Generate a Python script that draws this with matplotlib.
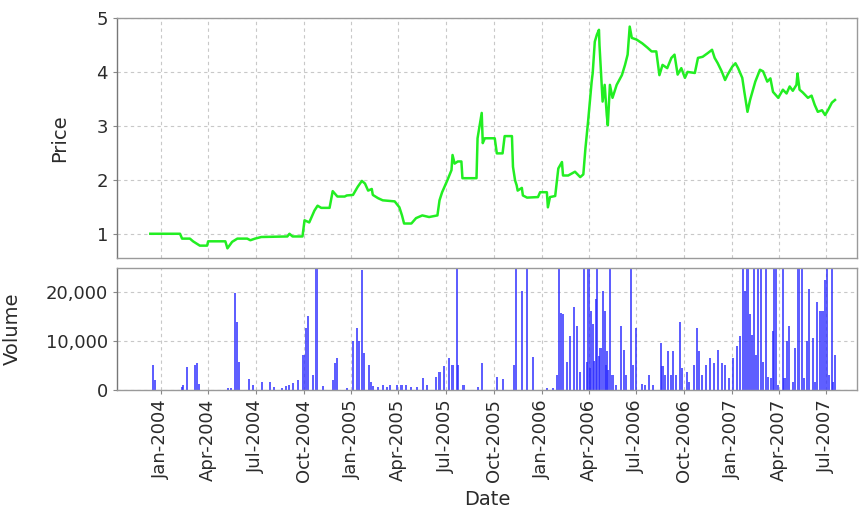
import pandas as pd
import matplotlib
matplotlib.use("Agg")
import matplotlib.pyplot as plt
import matplotlib.dates as mdates
from matplotlib.ticker import FuncFormatter

# === PRICE ===
price_dates = [
    "2003-12-12", "2004-02-07", "2004-02-11", "2004-02-26", "2004-03-03", "2004-03-16",
    "2004-03-30", "2004-04-01", "2004-05-04", "2004-05-08", "2004-05-17", "2004-05-27",
    "2004-06-15", "2004-06-21", "2004-06-30", "2004-07-12", "2004-08-31", "2004-09-04",
    "2004-09-10", "2004-09-29", "2004-10-03", "2004-10-12", "2004-10-22", "2004-10-28",
    "2004-11-04", "2004-11-20", "2004-11-26", "2004-12-05", "2004-12-19", "2004-12-23",
    "2005-01-04", "2005-01-13", "2005-01-21", "2005-01-27", "2005-02-02", "2005-02-09",
    "2005-02-11", "2005-02-21", "2005-03-02", "2005-03-25", "2005-04-03", "2005-04-08",
    "2005-04-12", "2005-04-26", "2005-05-05", "2005-05-17", "2005-05-30", "2005-06-15",
    "2005-06-19", "2005-06-24", "2005-07-04", "2005-07-12", "2005-07-14", "2005-07-18",
    "2005-07-24", "2005-07-31", "2005-08-02", "2005-08-29", "2005-08-31", "2005-09-08",
    "2005-09-10", "2005-09-14", "2005-10-03", "2005-10-07", "2005-10-18", "2005-10-22",
    "2005-11-05", "2005-11-07", "2005-11-11", "2005-11-14", "2005-11-16", "2005-11-24",
    "2005-11-26", "2005-12-04", "2005-12-25", "2005-12-29", "2006-01-11", "2006-01-13",
    "2006-01-17", "2006-01-27", "2006-02-02", "2006-02-09", "2006-02-11", "2006-02-21",
    "2006-03-06", "2006-03-16", "2006-03-22", "2006-03-26", "2006-03-31", "2006-04-07",
    "2006-04-09", "2006-04-13", "2006-04-17", "2006-04-21", "2006-04-22", "2006-04-26",
    "2006-04-28", "2006-05-02", "2006-05-06", "2006-05-08", "2006-05-12", "2006-05-17",
    "2006-05-25", "2006-06-04", "2006-06-10", "2006-06-15", "2006-06-19", "2006-06-23",
    "2006-07-02", "2006-07-13", "2006-07-23", "2006-07-31", "2006-08-09", "2006-08-15",
    "2006-08-21", "2006-08-30", "2006-09-07", "2006-09-13", "2006-09-19", "2006-09-26",
    "2006-10-03", "2006-10-08", "2006-10-22", "2006-10-28", "2006-11-06", "2006-11-16",
    "2006-11-24", "2006-11-29", "2006-12-05", "2006-12-13", "2006-12-19", "2006-12-24",
    "2007-01-02", "2007-01-08", "2007-01-13", "2007-01-21", "2007-01-25", "2007-01-31",
    "2007-02-05", "2007-02-15", "2007-02-24", "2007-03-02", "2007-03-10", "2007-03-16",
    "2007-03-21", "2007-03-31", "2007-04-09", "2007-04-16", "2007-04-22", "2007-04-28",
    "2007-05-05", "2007-05-07", "2007-05-11", "2007-05-17", "2007-05-27", "2007-06-03",
    "2007-06-09", "2007-06-15", "2007-06-23", "2007-06-29", "2007-07-05", "2007-07-12",
    "2007-07-18",
]
price_values = [
    1.00, 1.00, 0.91, 0.91, 0.86, 0.78,
    0.78, 0.86, 0.86, 0.73, 0.85, 0.91,
    0.91, 0.88, 0.91, 0.94, 0.95, 1.00,
    0.95, 0.95, 1.25, 1.21, 1.43, 1.52,
    1.48, 1.48, 1.79, 1.69, 1.69, 1.71,
    1.72, 1.87, 1.98, 1.93, 1.80, 1.83,
    1.72, 1.66, 1.62, 1.60, 1.49, 1.34,
    1.19, 1.19, 1.29, 1.34, 1.31, 1.34,
    1.62, 1.77, 1.99, 2.18, 2.46, 2.30,
    2.34, 2.34, 2.03, 2.03, 2.77, 3.24,
    2.68, 2.77, 2.77, 2.49, 2.49, 2.81,
    2.81, 2.24, 1.99, 1.90, 1.80, 1.85,
    1.71, 1.67, 1.68, 1.77, 1.77, 1.49,
    1.68, 1.70, 2.21, 2.33, 2.08, 2.08,
    2.15, 2.05, 2.10, 2.58, 3.07, 3.82,
    3.98, 4.56, 4.69, 4.78, 4.50, 3.82,
    3.45, 3.76, 3.20, 3.01, 3.76, 3.52,
    3.76, 3.94, 4.13, 4.32, 4.84, 4.63,
    4.60, 4.53, 4.45, 4.38, 4.38, 3.94,
    4.13, 4.07, 4.26, 4.32, 3.95, 4.07,
    3.89, 4.00, 3.98, 4.26, 4.28, 4.35,
    4.41, 4.26, 4.16, 4.00, 3.85, 3.95,
    4.10, 4.16, 4.07, 3.89, 3.63, 3.26,
    3.48, 3.82, 4.04, 4.01, 3.82, 3.88,
    3.63, 3.52, 3.67, 3.60, 3.73, 3.65,
    3.76, 3.97, 3.67, 3.62, 3.52, 3.56,
    3.39, 3.26, 3.29, 3.20, 3.30, 3.43,
    3.48,
]

# === VOLUME (tall spikes are cut at the top) ===
volume_dates = [
    "2003-12-17", "2003-12-21", "2004-02-11", "2004-02-13", "2004-02-20", "2004-03-07",
    "2004-03-11", "2004-03-15", "2004-05-09", "2004-05-15", "2004-05-22", "2004-05-26",
    "2004-05-30", "2004-06-18", "2004-06-26", "2004-07-14", "2004-07-29", "2004-08-06",
    "2004-08-21", "2004-08-29", "2004-09-04", "2004-09-10", "2004-09-21", "2004-10-01",
    "2004-10-05", "2004-10-09", "2004-10-20", "2004-10-26", "2004-11-07", "2004-11-26",
    "2004-11-30", "2004-12-04", "2004-12-23", "2005-01-04", "2005-01-11", "2005-01-15",
    "2005-01-21", "2005-01-25", "2005-02-03", "2005-02-07", "2005-02-11", "2005-02-21",
    "2005-03-02", "2005-03-10", "2005-03-16", "2005-03-29", "2005-04-07", "2005-04-16",
    "2005-04-26", "2005-05-07", "2005-05-19", "2005-05-26", "2005-06-13", "2005-06-19",
    "2005-06-28", "2005-07-07", "2005-07-14", "2005-07-22", "2005-07-24", "2005-08-04",
    "2005-08-31", "2005-09-08", "2005-10-07", "2005-10-18", "2005-11-09", "2005-11-13",
    "2005-11-24", "2005-12-04", "2005-12-15", "2006-01-11", "2006-01-22", "2006-01-30",
    "2006-02-03", "2006-02-07", "2006-02-11", "2006-02-18", "2006-02-24", "2006-03-04",
    "2006-03-10", "2006-03-16", "2006-03-23", "2006-03-29", "2006-04-01", "2006-04-03",
    "2006-04-05", "2006-04-09", "2006-04-12", "2006-04-15", "2006-04-18", "2006-04-21",
    "2006-04-24", "2006-04-28", "2006-05-02", "2006-05-04", "2006-05-06", "2006-05-09",
    "2006-05-12", "2006-05-17", "2006-05-23", "2006-06-02", "2006-06-08", "2006-06-12",
    "2006-06-21", "2006-06-25", "2006-07-01", "2006-07-12", "2006-07-18", "2006-07-26",
    "2006-08-02", "2006-08-18", "2006-08-21", "2006-08-25", "2006-08-31", "2006-09-06",
    "2006-09-10", "2006-09-16", "2006-09-23", "2006-09-27", "2006-10-07", "2006-10-10",
    "2006-10-20", "2006-10-26", "2006-10-30", "2006-11-04", "2006-11-12", "2006-11-20",
    "2006-11-27", "2006-12-05", "2006-12-13", "2006-12-19", "2006-12-26", "2007-01-04",
    "2007-01-11", "2007-01-17", "2007-01-23", "2007-01-27", "2007-01-31", "2007-02-05",
    "2007-02-09", "2007-02-13", "2007-02-17", "2007-02-21", "2007-02-26", "2007-03-02",
    "2007-03-08", "2007-03-12", "2007-03-17", "2007-03-21", "2007-03-23", "2007-03-27",
    "2007-03-31", "2007-04-09", "2007-04-12", "2007-04-16", "2007-04-20", "2007-04-28",
    "2007-05-03", "2007-05-09", "2007-05-15", "2007-05-19", "2007-05-25", "2007-05-29",
    "2007-06-05", "2007-06-09", "2007-06-13", "2007-06-19", "2007-06-24", "2007-06-28",
    "2007-07-03", "2007-07-07", "2007-07-12", "2007-07-14", "2007-07-18",
]
volume_values = [
    5100, 2000, 600, 1000, 4600, 5100,
    5500, 1300, 400, 400, 19800, 13800,
    5800, 2200, 1100, 1700, 1700, 500,
    400, 800, 1100, 1400, 2000, 7200,
    12700, 15200, 3000, 30000, 800, 2000,
    5500, 6600, 400, 10100, 12700, 10100,
    24600, 7500, 5100, 1700, 800, 500,
    1000, 600, 1000, 1100, 1100, 1100,
    600, 600, 2400, 1000, 2700, 3700,
    4800, 6500, 5100, 30000, 5100, 1000,
    600, 5500, 2700, 2200, 5100, 30000,
    20300, 30000, 6800, 400, 400, 3000,
    30000, 15800, 15500, 5800, 11000, 16900,
    13100, 3700, 30000, 5800, 30000, 4500,
    16200, 13400, 6000, 18600, 30000, 7000,
    8600, 20300, 16200, 5000, 7900, 4000,
    30000, 3000, 1000, 13100, 8200, 3000,
    30000, 5100, 12700, 1300, 1000, 3000,
    1000, 9600, 4800, 3000, 7900, 3000,
    7900, 3000, 13800, 4400, 3700, 1700,
    5100, 12700, 7900, 3000, 5100, 6500,
    5500, 8200, 5500, 5100, 2400, 6500,
    8900, 11000, 30000, 20300, 30000, 15500,
    11300, 30000, 7200, 30000, 30000, 5800,
    30000, 2700, 2400, 12000, 30000, 30000,
    1000, 30000, 2400, 10000, 13100, 1700,
    8600, 30000, 30000, 2400, 10000, 20700,
    10700, 1700, 17900, 16200, 16200, 22400,
    30000, 3000, 30000, 1700, 7200,
]

price_ticks = [1, 2, 3, 4, 5]
volume_ticks = [0, 10000, 20000]
x_start, x_end = "2003-10-09", "2007-08-30"

pd_price = pd.to_datetime(price_dates)
pd_vol = pd.to_datetime(volume_dates)

text_color = "#2b2b2b"
grid_kw = dict(color="#c8c8c8", linestyle=(0, (3, 3)), linewidth=0.8)

fig = plt.figure(figsize=(8.6, 5.13), dpi=100)
ax1 = fig.add_axes([0.136, 0.497, 0.861, 0.468])
ax2 = fig.add_axes([0.136, 0.240, 0.861, 0.238], sharex=ax1)

ax1.plot(pd_price, price_values, color="#22ee22", linewidth=1.8)
ax2.bar(pd_vol, volume_values, width=4, color="#2a2aff", alpha=0.75, linewidth=0)

for ax in (ax1, ax2):
    ax.grid(True, **grid_kw)
    ax.set_axisbelow(True)
    for side in ("top", "right", "bottom", "left"):
        ax.spines[side].set_color("#9a9a9a")
        ax.spines[side].set_linewidth(1.0)
    ax.spines["left"].set_color("#777777")
    ax.tick_params(colors=text_color, labelsize=13, length=3, width=0.8)
    ax.tick_params(axis="both", color="#888888")

ax1.set_ylim(0.55, 5.0)
ax1.set_yticks(price_ticks)
ax1.set_ylabel("Price", fontsize=14, color=text_color)
ax1.yaxis.set_label_coords(-0.064, 0.5)
ax1.tick_params(axis="x", labelbottom=False, length=0)

ax2.set_ylim(0, 25000)
ax2.set_yticks(volume_ticks)
ax2.yaxis.set_major_formatter(FuncFormatter(lambda v, p: f"{int(v):,}"))
ax2.set_ylabel("Volume", fontsize=14, color=text_color)
ax2.yaxis.set_label_coords(-0.128, 0.5)

ax2.set_xlim(pd.Timestamp(x_start), pd.Timestamp(x_end))
ax2.xaxis.set_major_locator(mdates.MonthLocator(bymonth=[1, 4, 7, 10]))
ax2.xaxis.set_major_formatter(mdates.DateFormatter("%b-%Y"))
plt.setp(ax2.get_xticklabels(), rotation=90, ha="center")
ax2.set_xlabel("Date", fontsize=14, color=text_color, labelpad=6)

fig.savefig("out.png", dpi=100, facecolor="white")
